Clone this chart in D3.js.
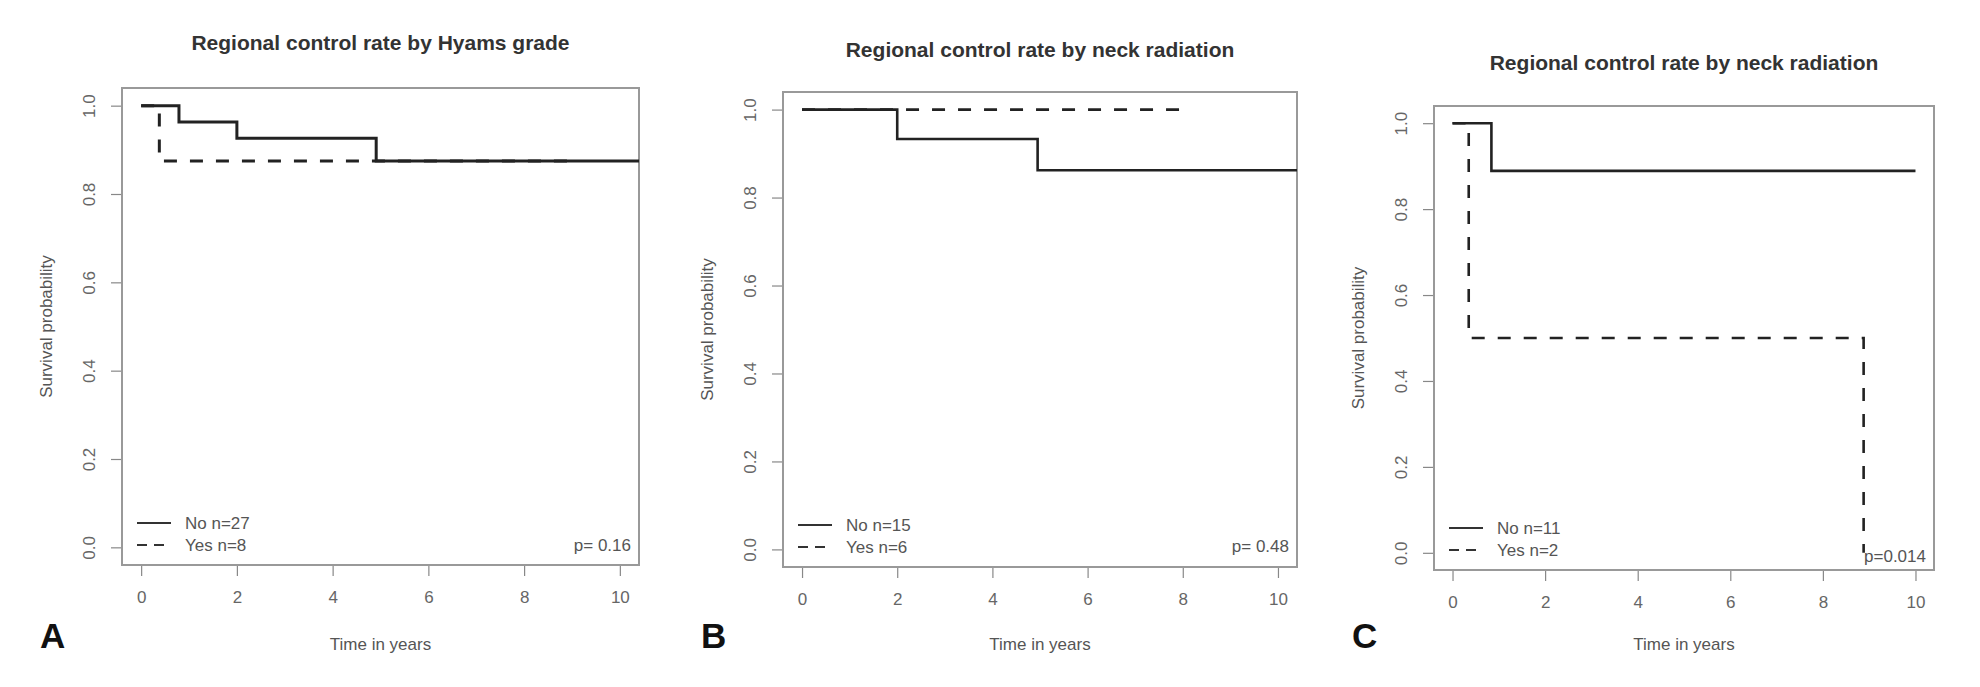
<!doctype html>
<html lang='en'>
<head>
    <meta charset='utf-8'>
    <title>Regional control rate</title>
    <script src='https://cdn.jsdelivr.net/npm/d3@7/dist/d3.min.js'></script>
    <style>
        body { margin: 0; background: white; }
        svg { font-family: 'Liberation Sans', Arial, sans-serif; }
        .box { fill: none; stroke: #999; stroke-width: 2px; }
        .tick line { stroke: #888; stroke-width: 1.2px; }
        .tick text { fill: #666; font-size: 17px; }
        .curve { fill: none; stroke: #222; }
        .title { font-weight: bold; font-size: 21px; fill: #333; text-anchor: middle; }
        .axis-title { font-size: 17px; fill: #555; text-anchor: middle; }
        .legend text, .pval { font-size: 17px; fill: #555; }
        .panel-letter { font-size: 35px; font-weight: bold; fill: #111; }
    </style>
</head>
<body>
<svg id='chart' width='1980' height='687'></svg>
<script>
    // x ticks and y ticks shared by all three panels
    const xTicks = [0, 2, 4, 6, 8, 10];
    const yTicks = [0.0, 0.2, 0.4, 0.6, 0.8, 1.0];

    // Panel A: Hyams grade
    const aNoTime = [0, 0.79, 2.0, 4.91];
    const aNoSurv = [1.0, 0.963, 0.926, 0.875];
    const aNoEnd = 10.4;
    const aYesTime = [0, 0.38];
    const aYesSurv = [1.0, 0.875];
    const aYesEnd = 8.94;

    // Panel B: neck radiation
    const bNoTime = [0, 2.0, 4.95];
    const bNoSurv = [1.0, 0.933, 0.862];
    const bNoEnd = 10.4;
    const bYesTime = [0];
    const bYesSurv = [1.0];
    const bYesEnd = 8.1;

    // Panel C: neck radiation
    const cNoTime = [0, 0.84];
    const cNoSurv = [1.0, 0.889];
    const cNoEnd = 10.0;
    const cYesTime = [0, 0.35, 8.88];
    const cYesSurv = [1.0, 0.5, 0.0];
    const cYesEnd = 8.88;

    const panels = [
        {letter: 'A', title: 'Regional control rate by Hyams grade', titleY: 50,
         box: {left: 122, right: 639, top: 88, bottom: 565}, lw: 3,
         no: [aNoTime, aNoSurv, aNoEnd], yes: [aYesTime, aYesSurv, aYesEnd],
         legend: ['No n=27', 'Yes n=8'], p: 'p= 0.16', pDy: -20},
        {letter: 'B', title: 'Regional control rate by neck radiation', titleY: 57,
         box: {left: 783, right: 1297, top: 92, bottom: 567}, lw: 2.6,
         no: [bNoTime, bNoSurv, bNoEnd], yes: [bYesTime, bYesSurv, bYesEnd],
         legend: ['No n=15', 'Yes n=6'], p: 'p= 0.48', pDy: -21},
        {letter: 'C', title: 'Regional control rate by neck radiation', titleY: 70,
         box: {left: 1434, right: 1934, top: 106, bottom: 570}, lw: 2.6,
         no: [cNoTime, cNoSurv, cNoEnd], yes: [cYesTime, cYesSurv, cYesEnd],
         legend: ['No  n=11', 'Yes  n=2'], p: 'p=0.014', pDy: -14}
    ];

    const svg = d3.select('#chart');

    function stepPoints(series) {
        const [t, s, end] = series;
        const pts = t.map((d, i) => ({t: d, s: s[i]}));
        pts.push({t: end, s: s[s.length - 1]});
        return pts;
    }

    panels.forEach(p => {
        const b = p.box;
        const x = d3.scaleLinear().domain([-0.4, 10.4]).range([b.left, b.right]);
        const y = d3.scaleLinear().domain([-0.04, 1.04]).range([b.bottom, b.top]);
        const g = svg.append('g');

        g.append('text').attr('class', 'title')
            .attr('x', (b.left + b.right) / 2).attr('y', p.titleY)
            .text(p.title);

        // x axis
        const xa = g.append('g').attr('transform', `translate(0,${b.bottom})`)
            .call(d3.axisBottom(x).tickValues(xTicks).tickSize(11).tickSizeOuter(0).tickPadding(15));
        xa.select('.domain').remove();

        // y axis, labels parallel to axis
        const ya = g.append('g').attr('transform', `translate(${b.left},0)`)
            .call(d3.axisLeft(y).tickValues(yTicks).tickSize(11).tickSizeOuter(0).tickFormat(d3.format('.1f')));
        ya.select('.domain').remove();
        ya.selectAll('.tick text')
            .attr('x', null).attr('dy', '0.36em')
            .attr('text-anchor', 'middle')
            .attr('transform', 'translate(-33,0) rotate(-90)');

        g.append('rect').attr('class', 'box')
            .attr('x', b.left).attr('y', b.top)
            .attr('width', b.right - b.left).attr('height', b.bottom - b.top);

        g.append('text').attr('class', 'axis-title')
            .attr('x', (b.left + b.right) / 2).attr('y', 650)
            .text('Time in years');

        const cy = (b.top + b.bottom) / 2;
        g.append('text').attr('class', 'axis-title')
            .attr('transform', `translate(${b.left - 76},${cy}) rotate(-90)`)
            .attr('dy', '0.36em')
            .text('Survival probability');

        g.append('text').attr('class', 'panel-letter')
            .attr('x', b.left - 82).attr('y', 648)
            .text(p.letter);

        const line = d3.line().curve(d3.curveStepAfter)
            .x(d => x(d.t)).y(d => y(d.s));

        g.append('path').attr('class', 'curve')
            .attr('d', line(stepPoints(p.no)))
            .attr('stroke-width', p.lw);
        g.append('path').attr('class', 'curve')
            .attr('d', line(stepPoints(p.yes)))
            .attr('stroke-width', p.lw)
            .attr('stroke-dasharray', '13,13');

        // legend
        const lg = g.append('g').attr('class', 'legend');
        p.legend.forEach((txt, i) => {
            const ly = b.bottom - 42 + i * 22;
            lg.append('line')
                .attr('x1', b.left + 15).attr('x2', b.left + 49)
                .attr('y1', ly).attr('y2', ly)
                .attr('stroke', '#333').attr('stroke-width', 2)
                .attr('stroke-dasharray', i === 0 ? null : '10,7');
            lg.append('text')
                .attr('x', b.left + 63).attr('y', ly).attr('dy', '0.36em')
                .text(txt);
        });

        g.append('text').attr('class', 'pval')
            .attr('x', b.right - 8).attr('y', b.bottom + p.pDy).attr('dy', '0.36em')
            .attr('text-anchor', 'end')
            .text(p.p);
    });
</script>
</body>
</html>
